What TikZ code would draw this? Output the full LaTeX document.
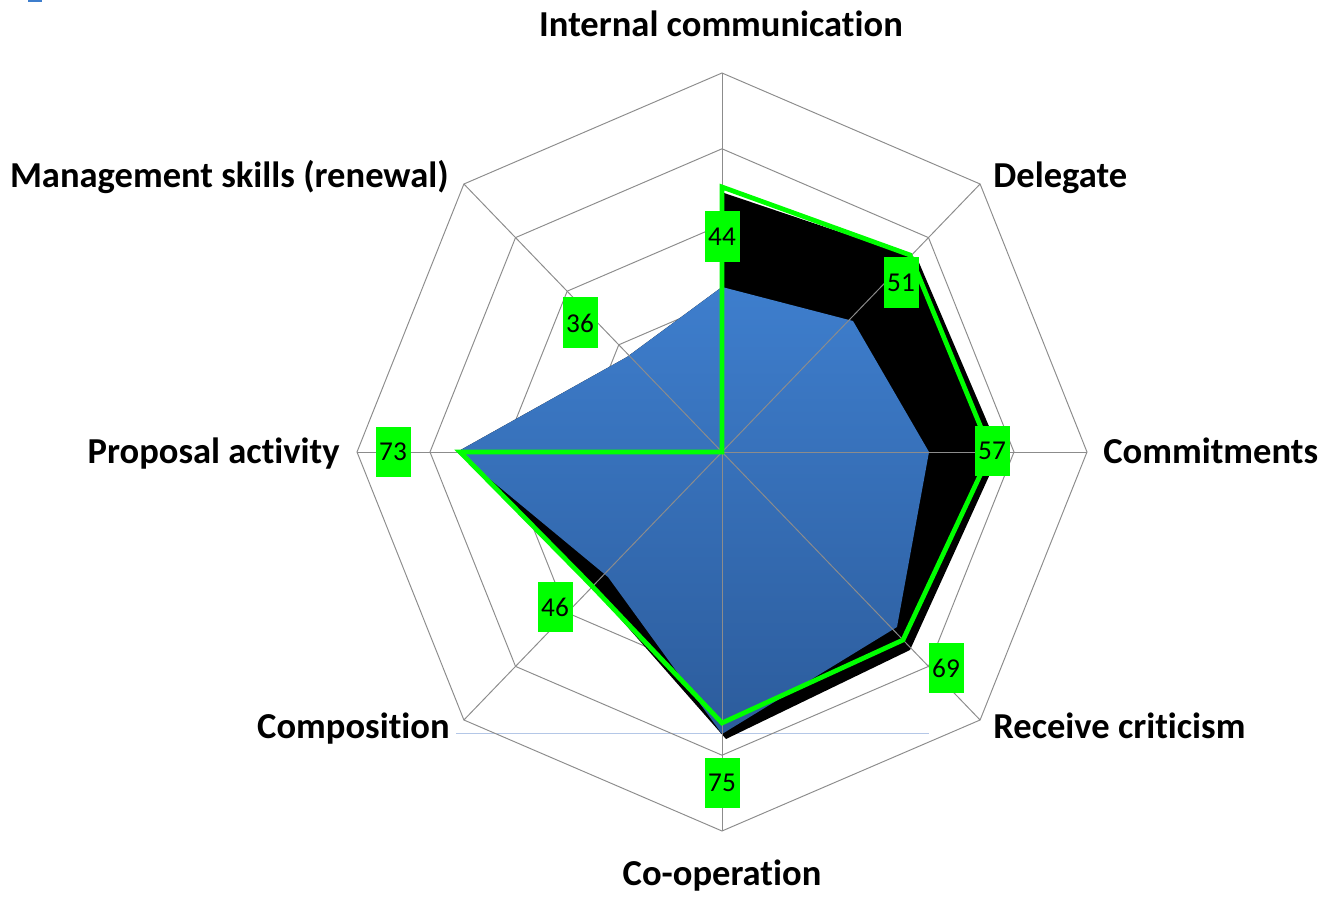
\documentclass[tikz,border=0pt]{standalone}
\usepackage{fontspec}
\setmainfont{Carlito}[Ligatures=NoCommon]
\usetikzlibrary{positioning}
\definecolor{chartgreen}{RGB}{0,255,0}
\definecolor{gridgray}{RGB}{140,140,140}
\definecolor{bluetop}{RGB}{62,126,205}
\definecolor{bluebot}{RGB}{44,92,156}
\definecolor{axisblue}{RGB}{180,199,231}

\begin{document}
\begin{tikzpicture}[x=0.02cm, y=-0.02cm,
    gridline/.style={draw=gridgray, line width=0.55pt},
    catlabel/.style={font=\fontsize{20.8}{24}\selectfont\bfseries, inner sep=0pt},
    valbox/.style={fill=chartgreen, minimum width=0.7cm, minimum height=1.02cm,
      inner sep=0pt, font=\fontsize{15.5}{18}\selectfont}]
  \useasboundingbox (0,0) rectangle (1326,901);
  \fill[bluetop] (28,0) rectangle (42,2);
  \coordinate (c) at (722,452);
  \foreach \i in {0,...,7}
    \coordinate (ax\i) at ({722+365*cos(45*\i)},{452-379*sin(45*\i)});
  % axis line and rings
  \coordinate (base0) at (456,733);
  \coordinate (base1) at (929,733);
  \draw[axisblue, line width=0.5pt] (base0) -- (base1);
  \foreach \k in {1,...,5}
    \draw[gridline] ({722+73*\k},452)
      \foreach \i in {1,...,7}{ -- ({722+73*\k*cos(45*\i)},{452-75.8*\k*sin(45*\i)}) } -- cycle;
  % series
  \fill[black] (724,193) -- (917,258) -- (1000,452) -- (910,650) -- (726,739)
    -- (595,590) -- (463,457) -- (722,452) -- cycle;
  \fill[top color=bluetop, bottom color=bluebot] (722,287) -- (853,321) -- (929,452)
    -- (897,627) -- (722,734) -- (608,577) -- (457,452) -- (627,357) -- cycle;
  \foreach \i in {0,...,7}
    \draw[gridline] (c) -- (ax\i);
  \draw[chartgreen, line width=2.7pt] (722,187) -- (910,255) -- (991,452) -- (903,640)
    -- (722,723) -- (591,585) -- (460,452) -- (722,452) -- cycle;
  % value labels
  \node[valbox] (val2) at (722,237) {44};
  \node[valbox] (val1) at (901,283) {51};
  \node[valbox] (val0) at (992,451) {57};
  \node[valbox] (val7) at (946,668) {69};
  \node[valbox] (val6) at (722,783) {75};
  \node[valbox] (val5) at (555,607) {46};
  \node[valbox] (val4) at (393,452) {73};
  \node[valbox] (val3) at (580,323) {36};
  % category labels
  \node[catlabel, anchor=base] (cat2) at (721,37) {Internal communication};
  \node[catlabel, anchor=base west] (cat1) at (993,188) {Delegate};
  \node[catlabel, anchor=base west] (cat0) at (1103,464) {Commitments};
  \node[catlabel, anchor=base west] (cat7) at (993,739) {Receive criticism};
  \node[catlabel, anchor=base] (cat6) at (722,886) {Co-operation};
  \node[catlabel, anchor=base east] (cat5) at (450,739) {Composition};
  \node[catlabel, anchor=base east] (cat4) at (340,464) {Proposal activity};
  \node[catlabel, anchor=base east] (cat3) at (449,188) {Management skills (renewal)};
\end{tikzpicture}
\end{document}
